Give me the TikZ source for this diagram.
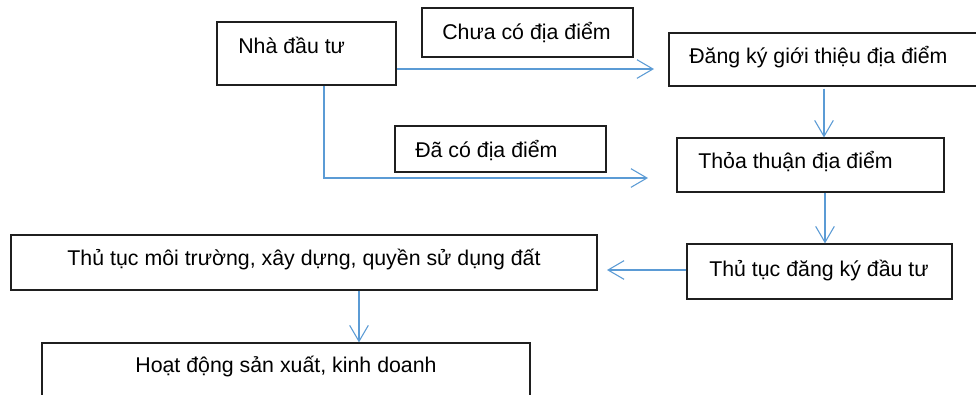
\documentclass[tikz,border=0pt]{standalone}
\usepackage{fontspec}
\setmainfont{Liberation Sans}
\usetikzlibrary{arrows.meta,fit}
\definecolor{lineblue}{HTML}{5B9BD5}
\definecolor{boxline}{HTML}{1F1F1F}
\tikzset{
  box/.style={draw=boxline, line width=0.9pt, inner sep=0pt, fill=none},
  thickbox/.style={box, line width=1.6pt},
  txt/.style={inner sep=0pt, font=\fontsize{16}{19}\selectfont, text=black},
  conn/.style={draw=lineblue, line width=0.8pt},
  arr/.style={conn, -{Straight Barb[length=12pt, width=14pt, line width=0.8pt]}}
}
\begin{document}
\begin{tikzpicture}[x=0.75pt, y=-0.75pt]
\clip (0,0) rectangle (976,394);
\fill[white] (0,0) rectangle (976,394);
% boxes
\node[thickbox, fit={(217,22) (396,85)}] (inv) {};
\node[box, fit={(422,8) (633,57)}] (chua) {};
\node[box, fit={(395,126) (606,172)}] (daco) {};
\node[box, fit={(669,33) (990,86)}] (reg) {};
\node[box, fit={(677,138) (944,192)}] (thoa) {};
\node[box, fit={(687,244) (952,299)}] (dk) {};
\node[box, fit={(11,235) (597,290)}] (env) {};
\node[box, fit={(42,343) (530,410)}] (act) {};
% texts
\node[txt, anchor=base west] (tinv) at (238,53) {Nhà đầu tư};
\node[txt, anchor=base west] (tchua) at (442,39) {Chưa có địa điểm};
\node[txt, anchor=base west] (tdaco) at (415,157) {Đã có địa điểm};
\node[txt, anchor=base west] (treg) at (689,63) {Đăng ký giới thiệu địa điểm};
\node[txt, anchor=base west] (tthoa) at (698,168) {Thỏa thuận địa điểm};
\node[txt, anchor=base west] (tdk) at (709,276) {Thủ tục đăng ký đầu tư};
\node[txt, anchor=base] (tenv) at (304,265) {Thủ tục môi trường, xây dựng, quyền sử dụng đất};
\node[txt, anchor=base] (tact) at (286,372) {Hoạt động sản xuất, kinh doanh};
% free ends
\coordinate (e1) at (654,69);
\coordinate (b1) at (324,178);
\coordinate (e2) at (648,178);
\coordinate (e3) at (607,270);
% connectors
\draw[arr] (inv.east |- e1) -- (e1);
\draw[arr] (inv.south -| b1) -- (b1) -- (e2);
\draw[arr] ([yshift=-1.5pt]reg.south -| 824,0) -- (thoa.north -| 824,0);
\draw[arr] (thoa.south -| 825,0) -- (dk.north -| 825,0);
\draw[arr] (dk.west |- e3) -- (e3);
\draw[arr] (env.south -| 359,0) -- (act.north -| 359,0);
\end{tikzpicture}
\end{document}
